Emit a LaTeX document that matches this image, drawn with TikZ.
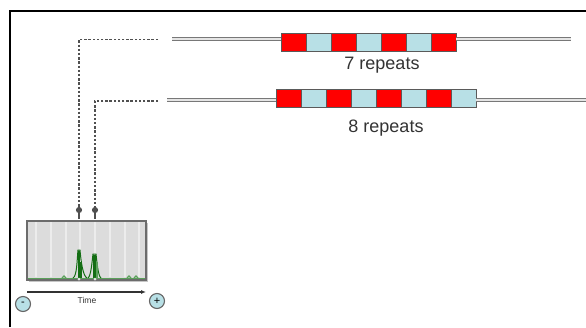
\documentclass[tikz,border=0pt]{standalone}
\usepackage{fontspec}
\setmainfont{Liberation Sans}
\usetikzlibrary{arrows.meta}
\definecolor{rptred}{RGB}{255,0,0}
\definecolor{rptblue}{RGB}{184,224,230}
\definecolor{boxedge}{RGB}{90,90,90}
\definecolor{dnagray}{RGB}{120,120,120}
\definecolor{dotgray}{RGB}{80,80,80}
\definecolor{chartfill}{RGB}{220,220,220}
\definecolor{peakgreen}{RGB}{20,110,20}
\definecolor{basegreen}{RGB}{90,160,90}
\tikzset{
  redbox/.style={draw=boxedge, line width=0.9pt, fill=rptred, minimum width=25pt, minimum height=18pt, inner sep=0pt, outer sep=0pt, anchor=west},
  bluebox/.style={redbox, fill=rptblue},
  dna/.style={draw=dnagray, line width=1.4pt, double=white!80!gray, double distance=1.2pt},
  dotconn/.style={draw=dotgray, line width=1.9pt, dash pattern=on 2.4pt off 1.8pt, -{Circle[length=6pt]}},
  label/.style={font=\fontsize{18}{20}\selectfont, text=black!80},
  pol/.style={circle, draw=gray!80!black, fill=rptblue, line width=1.1pt, minimum size=15pt, inner sep=0pt, font=\fontsize{11}{11}\selectfont}
}
\begin{document}
\begin{tikzpicture}[x=1pt,y=-1pt]
\useasboundingbox (0,0) rectangle (586,327);
\fill[white] (0,0) rectangle (586,327);
% frame
\draw[black, line width=2.2pt] (10,327) -- (10,11) -- (586,11);

% strand 1: 7 repeats
\coordinate (s1l) at (172,39);
\coordinate (s1r) at (571,39);
\node[redbox]  (a1) at (281,42) {};
\node[bluebox] (a2) at (a1.east) {};
\node[redbox]  (a3) at (a2.east) {};
\node[bluebox] (a4) at (a3.east) {};
\node[redbox]  (a5) at (a4.east) {};
\node[bluebox] (a6) at (a5.east) {};
\node[redbox]  (a7) at (a6.east) {};
\draw[dna] (s1l) -- (a1.west |- s1l);
\draw[dna] (a7.east |- s1r) -- (s1r);
\node[label] (t7) at (382,65) {7 repeats};

% strand 2: 8 repeats
\coordinate (s2l) at (167,100);
\coordinate (s2r) at (588,100);
\node[redbox]  (b1) at (276,98.5) {};
\node[bluebox] (b2) at (b1.east) {};
\node[redbox]  (b3) at (b2.east) {};
\node[bluebox] (b4) at (b3.east) {};
\node[redbox]  (b5) at (b4.east) {};
\node[bluebox] (b6) at (b5.east) {};
\node[redbox]  (b7) at (b6.east) {};
\node[bluebox] (b8) at (b7.east) {};
\draw[dna] (s2l) -- (b1.west |- s2l);
\draw[dna] (b8.east |- s2r) -- (s2r);
\node[label] (t8) at (386,128) {8 repeats};

% chart
\fill[gray!45] (29,223) rectangle (148,282);
\node[draw=gray!85!black, line width=1.2pt, fill=chartfill, minimum width=119pt, minimum height=59pt, inner sep=0pt] (chart) at (86.5,250.5) {};
\foreach \x in {36,51,66,80,95,110,125,139}{
  \draw[white!85!gray, line width=1.2pt] (\x,222) -- (\x,277);
}
% dotted connectors
\coordinate (c1) at (158,39.5);
\coordinate (k1) at (79,39.5);
\coordinate (c2) at (158,101);
\coordinate (k2) at (95,101);
\coordinate (e1) at (79,213);
\coordinate (e2) at (95,213);
\draw[dotconn] (c1) -- (k1) -- (e1);
\draw[dotconn] (c2) -- (k2) -- (e2);
\draw[dotgray, line width=1.2pt] (e1) -- (79,219);
\draw[dotgray, line width=1.2pt] (e2) -- (95,219);
% traces
\draw[basegreen, line width=1.6pt] (28,278.5) -- (145,278.5);
\draw[basegreen, line width=1.2pt] (62,278) -- (64,276) -- (66,278);
\draw[basegreen, line width=1.2pt] (127,278) -- (129,276) -- (131,278);
\draw[basegreen, line width=1.2pt] (134,278) -- (136,276) -- (138,278);
\draw[peakgreen, line width=1pt] (73,278) .. controls (77,276) and (77,260) .. (78,250) -- (80,250) .. controls (81,262) and (83,276) .. (87,278);
\fill[peakgreen] (77.5,251) rectangle (80,278);
\fill[peakgreen] (80,262) rectangle (82,278);
\draw[peakgreen, line width=1pt] (88,278) .. controls (91,276) and (92,262) .. (93,254) -- (96,254) .. controls (97,262) and (98,276) .. (101,278);
\fill[peakgreen] (93,255) rectangle (96,278);
\fill[basegreen] (96,262) rectangle (98,278);
\fill[white!80!gray] (79,279) circle (1.5pt);
\fill[white!80!gray] (95,279) circle (1.5pt);

% time axis
\coordinate (ax0) at (27,292);
\coordinate (ax1) at (146,292);
\draw[black!80, line width=1.5pt, -{Latex[length=5pt,width=4pt]}] (ax0) -- (ax1);
\node[font=\fontsize{8.5}{9}\selectfont, text=black!80] (time) at (87,300) {Time};
\node[pol] (minus) at (23,304) {-};
\node[pol] (plus) at (157,301) {+};
\end{tikzpicture}
\end{document}
